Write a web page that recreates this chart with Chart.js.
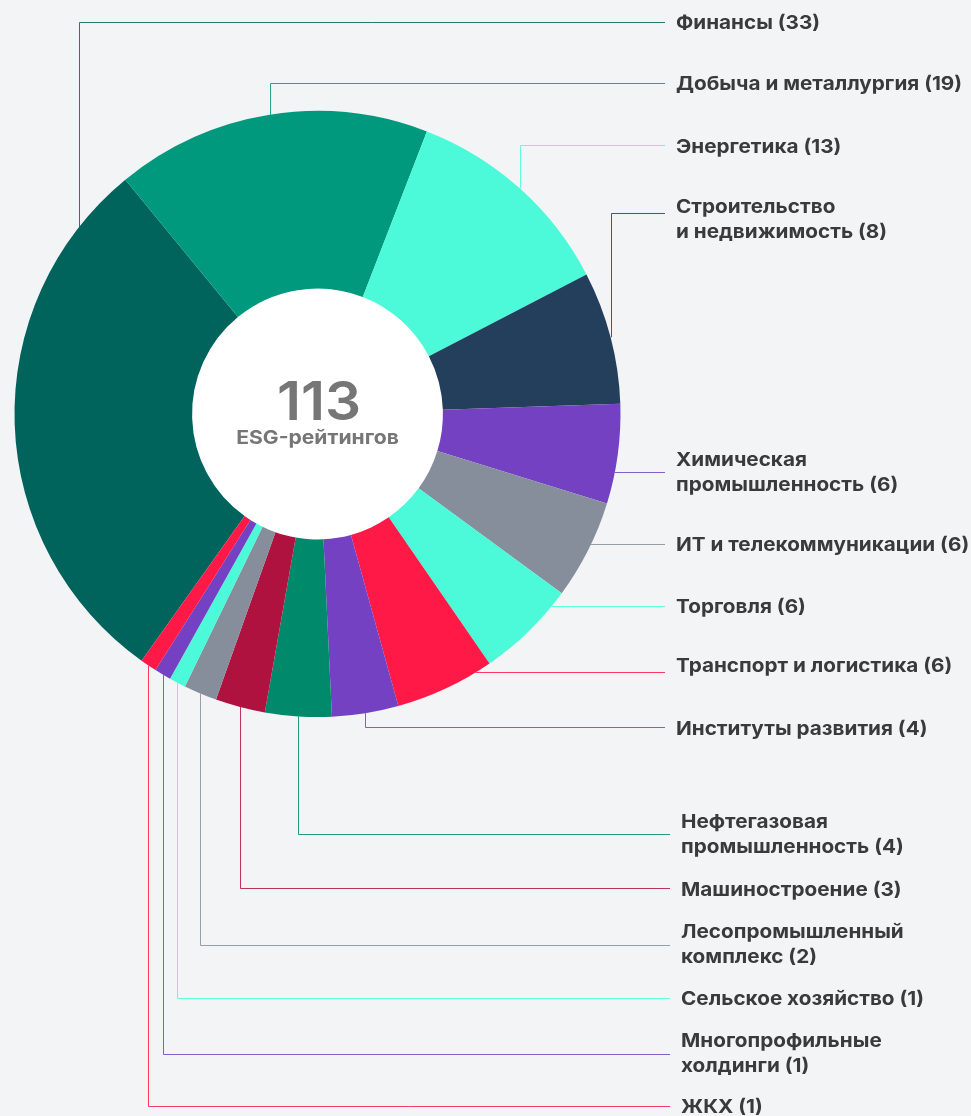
<!DOCTYPE html>
<html lang="ru">
<head>
<meta charset="utf-8">
<title>ESG-рейтинги по отраслям</title>
<script src="https://cdn.jsdelivr.net/npm/chart.js@4.4.1/dist/chart.umd.min.js"></script>
<style>
  html, body { margin: 0; padding: 0; background: #f2f4f6; }
  .wrap { position: relative; width: 971px; height: 1116px; }
</style>
</head>
<body>
<div class="wrap"><canvas id="esgChart"></canvas></div>
<script>
// Отрасли (перенос строки там, где подпись в две строки)
const categories = [
  'Финансы',
  'Добыча и металлургия',
  'Энергетика',
  'Строительство\nи недвижимость',
  'Химическая\nпромышленность',
  'ИТ и телекоммуникации',
  'Торговля',
  'Транспорт и логистика',
  'Институты развития',
  'Нефтегазовая\nпромышленность',
  'Машиностроение',
  'Лесопромышленный\nкомплекс',
  'Сельское хозяйство',
  'Многопрофильные\nхолдинги',
  'ЖКХ'
];
const counts = [33, 19, 13, 8, 6, 6, 6, 6, 4, 4, 3, 2, 1, 1, 1]; // число рейтингов
const totalLabel = 'ESG-рейтингов';

// Цвета сегментов
const colors = [
  '#00645c', '#00997e', '#4cf9d8', '#243f5b', '#7441c3',
  '#868e9c', '#4cf9d8', '#ff1947', '#7441c3', '#00896a',
  '#b01240', '#868e9c', '#4cf9d8', '#7441c3', '#ff1947'
];

// Раскладка подписей справа
const lineY = [22, 83, 145, 213, 472, 544, 606, 672, 727, 834, 888, 945, 998, 1054, 1106];
const textY = [29, 90, 153, 213, 466, 551, 613, 672, 735, 828, 896, 938, 1005, 1047, 1113];
const textX = [676, 676, 676, 676, 676, 676, 676, 676, 676, 681, 681, 681, 681, 681, 681];
const straight = [false, false, false, false, true, true, true, true, false, false, false, false, false, false, false];
const anchorFrac = [0.88, 0.5, 0.5, 0.5, 0.5, 0.5, 0.5, 0.5, 0.5, 0.5, 0.5, 0.5, 0.5, 0.5, 0.5];

const total = counts.reduce((a, b) => a + b, 0);

// шрифт в макете шире, чем Inter — чуть растягиваем по горизонтали
function wideText(ctx, t, x, y, sx, align) {
  ctx.save();
  ctx.translate(x, y);
  ctx.scale(sx, 1);
  ctx.textAlign = align;
  ctx.fillText(t, 0, 0);
  ctx.restore();
}

// белый центр + число в центре
const centerPlugin = {
  id: 'center',
  beforeDatasetsDraw(chart) {
    const arc = chart.getDatasetMeta(0).data[0];
    const ctx = chart.ctx;
    ctx.save();
    ctx.fillStyle = '#ffffff';
    ctx.beginPath();
    ctx.arc(arc.x, arc.y, arc.innerRadius, 0, Math.PI * 2);
    ctx.fill();
    ctx.restore();
  },
  afterDatasetsDraw(chart) {
    const arc = chart.getDatasetMeta(0).data[0];
    const ctx = chart.ctx;
    ctx.save();
    ctx.fillStyle = '#767676';
    ctx.textBaseline = 'alphabetic';
    ctx.font = '600 53px Inter';
    wideText(ctx, String(total), arc.x + 1.5, arc.y + 6, 1.07, 'center');
    ctx.font = '700 19px Inter';
    wideText(ctx, totalLabel, arc.x, arc.y + 30, 1.11, 'center');
    ctx.restore();
  }
};

// выноски и подписи
const leaderPlugin = {
  id: 'leaders',
  afterDatasetsDraw(chart) {
    const ctx = chart.ctx;
    const arcs = chart.getDatasetMeta(0).data;
    ctx.save();
    ctx.lineWidth = 1;
    arcs.forEach((arc, i) => {
      const R = arc.outerRadius;
      const ly = Math.round(lineY[i]) + 0.5;
      const endX = textX[i] - 11;
      ctx.strokeStyle = colors[i];
      ctx.globalAlpha = 0.85;
      ctx.beginPath();
      if (straight[i]) {
        const dy = ly - arc.y;
        const sx = arc.x + Math.sqrt(Math.max(0, R * R - dy * dy));
        ctx.moveTo(sx, ly);
        ctx.lineTo(endX, ly);
      } else {
        const a = arc.startAngle + anchorFrac[i] * (arc.endAngle - arc.startAngle);
        const ax = Math.round(arc.x + R * Math.cos(a)) + 0.5;
        const ay = arc.y + R * Math.sin(a);
        ctx.moveTo(ax, ay);
        ctx.lineTo(ax, ly);
        ctx.lineTo(endX, ly);
      }
      ctx.stroke();

      ctx.globalAlpha = 1;
      ctx.fillStyle = '#3a3a3a';
      ctx.font = '700 19px Inter';
      ctx.textBaseline = 'alphabetic';
      const lines = categories[i].split('\n');
      lines[lines.length - 1] += ' (' + counts[i] + ')';
      lines.forEach((t, k) => wideText(ctx, t, textX[i], textY[i] + k * 24.5, 1.09, 'left'));
    });
    ctx.restore();
  }
};

const ctx1 = document.getElementById('esgChart').getContext('2d');
const esgChart = new Chart(ctx1, {
  type: 'doughnut',
  data: {
    labels: categories,
    datasets: [{
      data: counts,
      backgroundColor: colors,
      borderWidth: 0
    }]
  },
  options: {
    responsive: true,
    maintainAspectRatio: false,
    animation: false,
    rotation: 215.5,
    cutout: '41.4%',
    layout: {
      padding: { left: 14.5, top: 111, right: 350.5, bottom: 399 }
    },
    plugins: {
      legend: { display: false },
      tooltip: { enabled: false }
    }
  },
  plugins: [centerPlugin, leaderPlugin]
});
</script>
</body>
</html>
